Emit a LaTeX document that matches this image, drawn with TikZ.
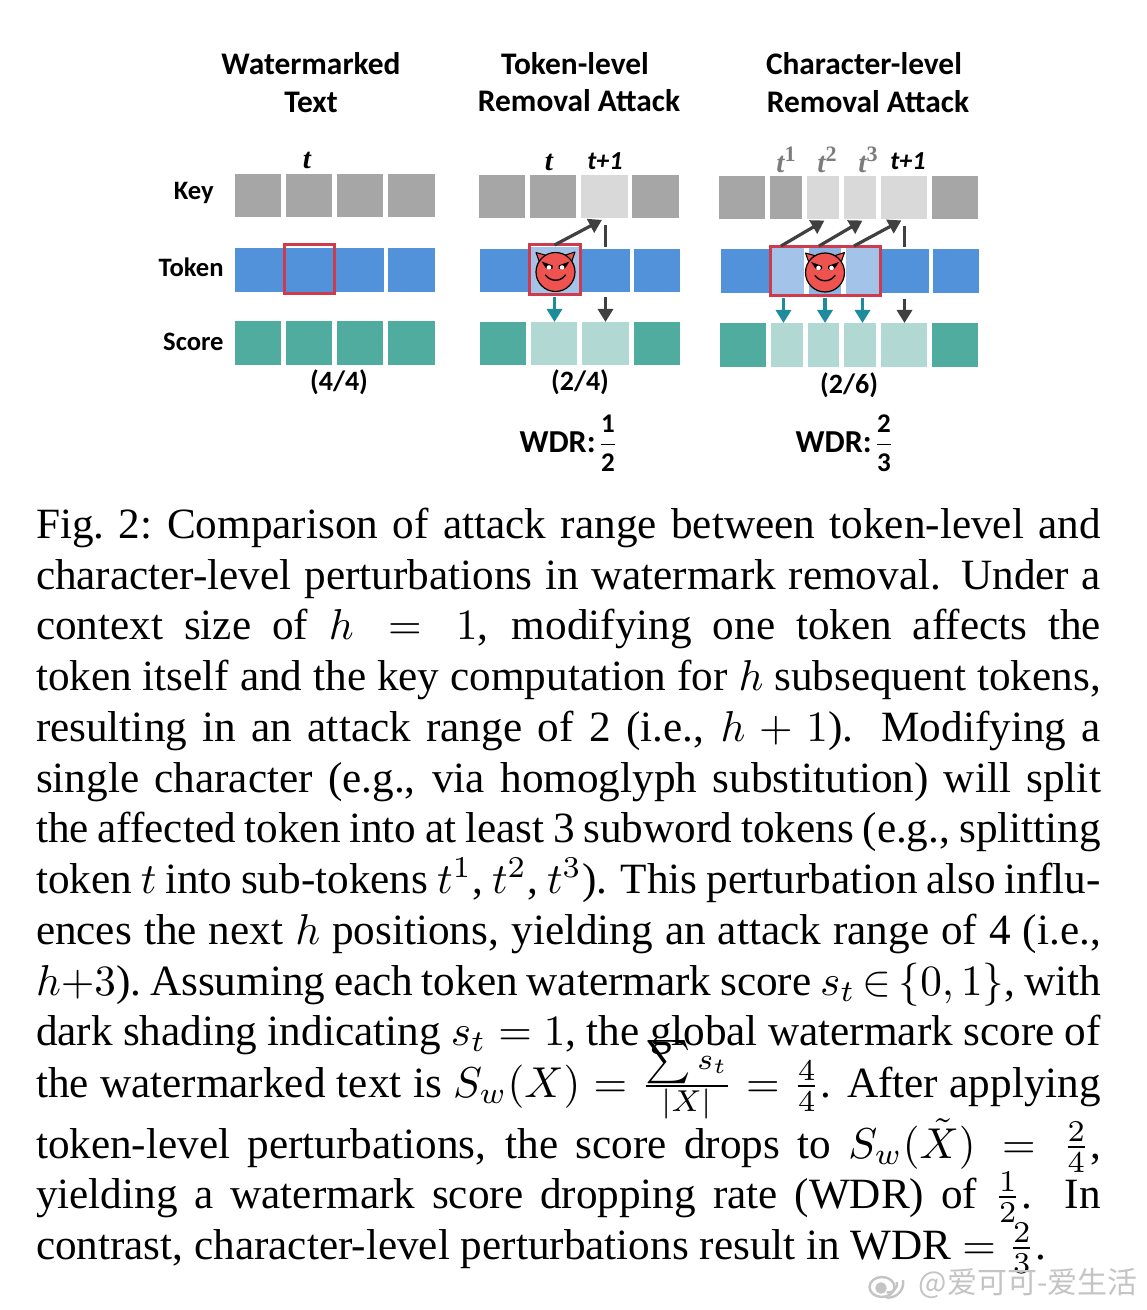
\documentclass[tikz,border=0pt]{standalone}
\usepackage{fontspec}
\newfontfamily\calib{Carlito}
\newfontfamily\tser{Liberation Serif}
\newfontfamily\capf{Liberation Serif}
\newfontfamily\cjk{Noto Sans CJK SC}
\usetikzlibrary{arrows.meta}
\definecolor{ckd}{HTML}{A6A6A6}
\definecolor{ckl}{HTML}{D9D9D9}
\definecolor{ctd}{HTML}{5292DA}
\definecolor{ctl}{HTML}{A3C3E8}
\definecolor{ctm}{HTML}{8FB4E3}
\definecolor{csd}{HTML}{50AC9F}
\definecolor{csl}{HTML}{B2D8D3}
\definecolor{credb}{HTML}{CF3B4C}
\definecolor{cag}{HTML}{404040}
\definecolor{cat}{HTML}{1F8C9B}
\definecolor{devilred}{HTML}{EF5350}
\definecolor{cwm}{HTML}{C4C4C4}
\tikzset{
  cellbox/.style={inner sep=0pt,outer sep=0pt,draw=none},
  redbox/.style={draw=credb,line width=1.5pt,fill=none,inner sep=0pt,outer sep=0pt},
  darr/.style={cag,line width=1.6pt,-{Triangle[length=6.5pt,width=7.5pt]}},
  tarr/.style={cat,line width=1.6pt,-{Triangle[length=6.5pt,width=7.5pt]}},
  stemline/.style={cag,line width=1.6pt},
  titlelab/.style={font=\calib\bfseries\fontsize{15.7}{18}\selectfont,inner sep=0pt},
  rowlab/.style={font=\calib\bfseries\fontsize{13.3}{15}\selectfont,inner sep=0pt,anchor=east},
  vallab/.style={font=\calib\bfseries\fontsize{14}{16}\selectfont,inner sep=0pt},
  wdrlab/.style={font=\calib\bfseries\fontsize{16}{18}\selectfont,inner sep=0pt},
  fraclab/.style={font=\calib\bfseries\fontsize{13.5}{16}\selectfont,inner sep=0pt},
  tlab/.style={font=\tser\bfseries\itshape\fontsize{14.5}{18}\selectfont,inner sep=0pt},
  tplab/.style={font=\calib\bfseries\itshape\fontsize{13}{15}\selectfont,inner sep=0pt},
  caplab/.style={scale=2.16,anchor=base west,inner sep=0pt,outer sep=0pt},
}
\newcommand{\supn}[1]{\raisebox{0.8ex}{\upshape\fontsize{11}{12}\selectfont #1}}
% name, x0, x1, y0, y1, fill
\newcommand{\cellat}[6]{\node[cellbox,fill=#6,minimum width={(#3-#2)*0.5pt},minimum height={(#5-#4)*0.5pt}] (#1) at ({(#2+#3)/2},{(#4+#5)/2}) {};}
\newcommand{\redat}[5]{\node[redbox,minimum width={(#3-#2)*0.5pt},minimum height={(#5-#4)*0.5pt}] (#1) at ({(#2+#3)/2},{(#4+#5)/2}) {};}
\newcommand{\capline}[3]{\node[caplab] (#1) at (36,#2) {\normalsize\capf\hbox to 246.5pt{#3}};}
\newcommand{\capend}[3]{\node[caplab] (#1) at (36,#2) {\normalsize\capf\hbox{#3}};}
\newcommand{\devilat}[2]{%
  \begin{scope}[shift={(#1,#2)}]
    \draw[fill=devilred,line width=0.5pt,line join=round] (-19.5,-19.5) -- (-15,-7) -- (-7,-16) -- cycle;
    \draw[fill=devilred,line width=0.5pt,line join=round] (19.5,-20) -- (15,-7) -- (7,-16) -- cycle;
    \draw[fill=devilred,line width=0.6pt] (0,0) circle[radius=19.5];
    \fill[black] (-14,-10.5) -- (-3,-6.5) -- (-3,-3.5) -- (-6.5,-2) -- (-10,-4.5) -- cycle;
    \fill[black] (14,-10.5) -- (3,-6.5) -- (3,-3.5) -- (6.5,-2) -- (10,-4.5) -- cycle;
    \fill[white] (-6.5,-4.5) circle[radius=2.3];
    \fill[white] (6.5,-4.5) circle[radius=2.3];
    \draw[line width=0.7pt,line cap=round] (-10,3) .. controls (-5,10) and (5,10) .. (10,3);
  \end{scope}}
\begin{document}
\begin{tikzpicture}[x=0.5pt,y=-0.5pt]
\useasboundingbox (0,0) rectangle (1146,1310);
\fill[white] (0,0) rectangle (1146,1310);

% titles
\node[titlelab] (h1a) at (311,64) {Watermarked};
\node[titlelab] (h1b) at (311,102) {Text};
\node[titlelab] (h2a) at (575,64) {Token-level};
\node[titlelab] (h2b) at (579,101) {Removal Attack};
\node[titlelab] (h3a) at (864,64) {Character-level};
\node[titlelab] (h3b) at (868,102) {Removal Attack};

% row labels
\node[rowlab] (lk) at (214,193) {Key};
\node[rowlab] (lt) at (224,267) {Token};
\node[rowlab] (ls) at (224,342) {Score};

% panel 1
\cellat{ka1}{235}{281}{174}{217}{ckd}
\cellat{ka2}{286}{332}{174}{217}{ckd}
\cellat{ka3}{337}{383}{174}{217}{ckd}
\cellat{ka4}{388}{435}{174}{217}{ckd}
\cellat{ta1}{235}{384}{248}{292}{ctd}
\cellat{ta2}{388}{435}{248}{292}{ctd}
\redat{ra}{284}{334}{245}{294}
\cellat{sa1}{235}{281}{321}{365}{csd}
\cellat{sa2}{286}{332}{321}{365}{csd}
\cellat{sa3}{337}{383}{321}{365}{csd}
\cellat{sa4}{388}{435}{321}{365}{csd}
\node[tlab] (lta) at (307,160) {t};
\node[vallab] (va) at (339,382) {(4/4)};

% panel 2
\cellat{kb1}{479}{525}{175}{218}{ckd}
\cellat{kb2}{530}{576}{175}{218}{ckd}
\cellat{kb3}{581}{628}{175}{218}{ckl}
\cellat{kb4}{632}{679}{175}{218}{ckd}
\cellat{tb1}{480}{530}{249}{292}{ctd}
\cellat{tb2}{530}{581}{247}{294}{ctl}
\cellat{tb3}{581}{630}{249}{292}{ctd}
\cellat{tb4}{634}{680}{249}{292}{ctd}
\redat{rb}{529}{580}{245}{295}
\cellat{sb1}{480}{526}{322}{365}{csd}
\cellat{sb2}{531}{577}{322}{365}{csl}
\cellat{sb3}{582}{629}{322}{365}{csl}
\cellat{sb4}{634}{680}{322}{365}{csd}
\devilat{555.5}{272}
\draw[darr,shorten >=2pt] (rb.north) -- (tb3.north |- kb3.south);
\draw[stemline,shorten <=1pt,shorten >=3.5pt] (tb3.north) -- (tb3.north |- kb3.south);
\draw[tarr,shorten <=1pt] (rb.south) -- (rb.south |- sb2.north);
\draw[darr,shorten <=2.5pt] (tb3.south) -- (tb3.south |- sb3.north);
\node[tlab] (ltb) at (549,162) {t};
\node[tplab] (ltb1) at (605,161) {t+1};
\node[vallab] (vb) at (580,382) {(2/4)};
\node[wdrlab,anchor=east] (wa) at (596,442) {WDR:};
\node[fraclab] (fa) at (608,443) {$\displaystyle\frac{\mbox{1}}{\mbox{2}}$};

% panel 3
\cellat{kc1}{719}{765}{176}{219}{ckd}
\cellat{kc2}{770}{802}{176}{219}{ckd}
\cellat{kc3}{807}{839}{176}{219}{ckl}
\cellat{kc4}{844}{876}{176}{219}{ckl}
\cellat{kc5}{881}{927}{176}{219}{ckl}
\cellat{kc6}{932}{978}{176}{219}{ckd}
\cellat{tc1}{721}{770}{249}{293}{ctd}
\cellat{tc2}{771}{804}{248}{295}{ctl}
\cellat{tc3}{809}{841}{248}{295}{ctm}
\cellat{tc4}{846}{879}{248}{295}{ctl}
\cellat{tc5}{880}{929}{249}{293}{ctd}
\cellat{tc6}{933}{979}{249}{293}{ctd}
\redat{rc}{770}{880}{247}{296}
\cellat{sc1}{720}{766}{323}{367}{csd}
\cellat{sc2}{771}{803}{323}{367}{csl}
\cellat{sc3}{808}{839}{323}{367}{csl}
\cellat{sc4}{844}{876}{323}{367}{csl}
\cellat{sc5}{881}{927}{323}{367}{csl}
\cellat{sc6}{932}{978}{323}{367}{csd}
\devilat{825}{272.5}
\coordinate (rc1) at (781,246);
\coordinate (rc2) at (819,246);
\coordinate (rc3) at (854,246);
\draw[darr,shorten >=1.5pt] (rc1) -- ([xshift=2pt]kc3.south);
\draw[darr,shorten >=1.5pt] (rc2) -- ([xshift=2.5pt]kc4.south);
\draw[darr,shorten >=1.5pt] (rc3) -- (kc5.south);
\draw[stemline,shorten <=1pt,shorten >=3.5pt] (tc5.north) -- (tc5.north |- kc5.south);
\draw[tarr,shorten <=1.5pt] ([xshift=-2pt]tc2.south) -- ([xshift=-2pt]tc2.south |- sc2.north);
\draw[tarr,shorten <=1.5pt] (tc3.south) -- (tc3.south |- sc3.north);
\draw[tarr,shorten <=1.5pt] (tc4.south) -- (tc4.south |- sc4.north);
\draw[darr,shorten <=3pt] (tc5.south) -- (tc5.south |- sc5.north);
\node[tlab,ckd!75!black] (ltc1) at (786,160) {t\supn{1}};
\node[tlab,ckd!75!black] (ltc2) at (827,160) {t\supn{2}};
\node[tlab,ckd!75!black] (ltc3) at (868,160) {t\supn{3}};
\node[tplab] (ltc4) at (908,161) {t+1};
\node[vallab] (vc) at (849,385) {(2/6)};
\node[wdrlab,anchor=east] (wb) at (872,442) {WDR:};
\node[fraclab] (fb) at (884,443) {$\displaystyle\frac{\mbox{2}}{\mbox{3}}$};

% caption
\capline{c1}{538}{Fig.\ 2:\ Comparison of attack range between token-level and}
\capline{c2}{589}{character-level perturbations in watermark removal. Under a}
\capline{c3}{639}{context size of $h=1$, modifying one token affects the}
\capline{c4}{690}{token itself and the key computation for $h$ subsequent tokens,}
\capline{c5}{741}{resulting in an attack range of 2 (i.e., $h+1$). Modifying a}
\capline{c6}{792}{single character (e.g., via homoglyph substitution) will split}
\capline{c7}{842}{the affected token into at least 3 subword tokens (e.g., splitting}
\capline{c8}{893}{token $t$ into sub-tokens $t^1$, $t^2$, $t^3$). This perturbation also influ-}
\capline{c9}{944}{ences the next $h$ positions, yielding an attack range of 4 (i.e.,}
\capline{c10}{995}{\thickmuskip=3mu\spaceskip=0.19em plus 0.1em\relax $h{+}3$).\ Assuming each token watermark score $s_t\in\{0,1\}$, with}
\capline{c11}{1045}{dark shading indicating $s_t=1$, the global watermark score of}
\capline{c12}{1097}{the watermarked text is $S_w(X)=\frac{\sum s_t}{|X|}=\frac{4}{4}$. After applying}
\capline{c13}{1158}{token-level perturbations, the score drops to $S_w(\tilde{X})=\frac{2}{4}$,}
\capline{c14}{1208}{yielding a watermark score dropping rate (WDR) of $\frac{1}{2}$. In}
\capend{c15}{1259}{contrast, character-level perturbations result in WDR $=\frac{2}{3}$.}

% source mark
\node[inner sep=0pt,anchor=east,text=cwm,font=\cjk\fontsize{15}{18}\selectfont] (wmk) at (1138,1283) {@爱可可-爱生活};
\begin{scope}[cwm,line width=1.2pt]
\draw[fill=white] (882,1287) ellipse[x radius=12.5,y radius=10];
\draw[fill=cwm] (881,1288) circle[radius=4.5];
\draw (897,1282) arc[start angle=-10,end angle=100,radius=9];
\draw (903,1280) arc[start angle=-10,end angle=100,radius=15];
\end{scope}
\end{tikzpicture}
\end{document}
